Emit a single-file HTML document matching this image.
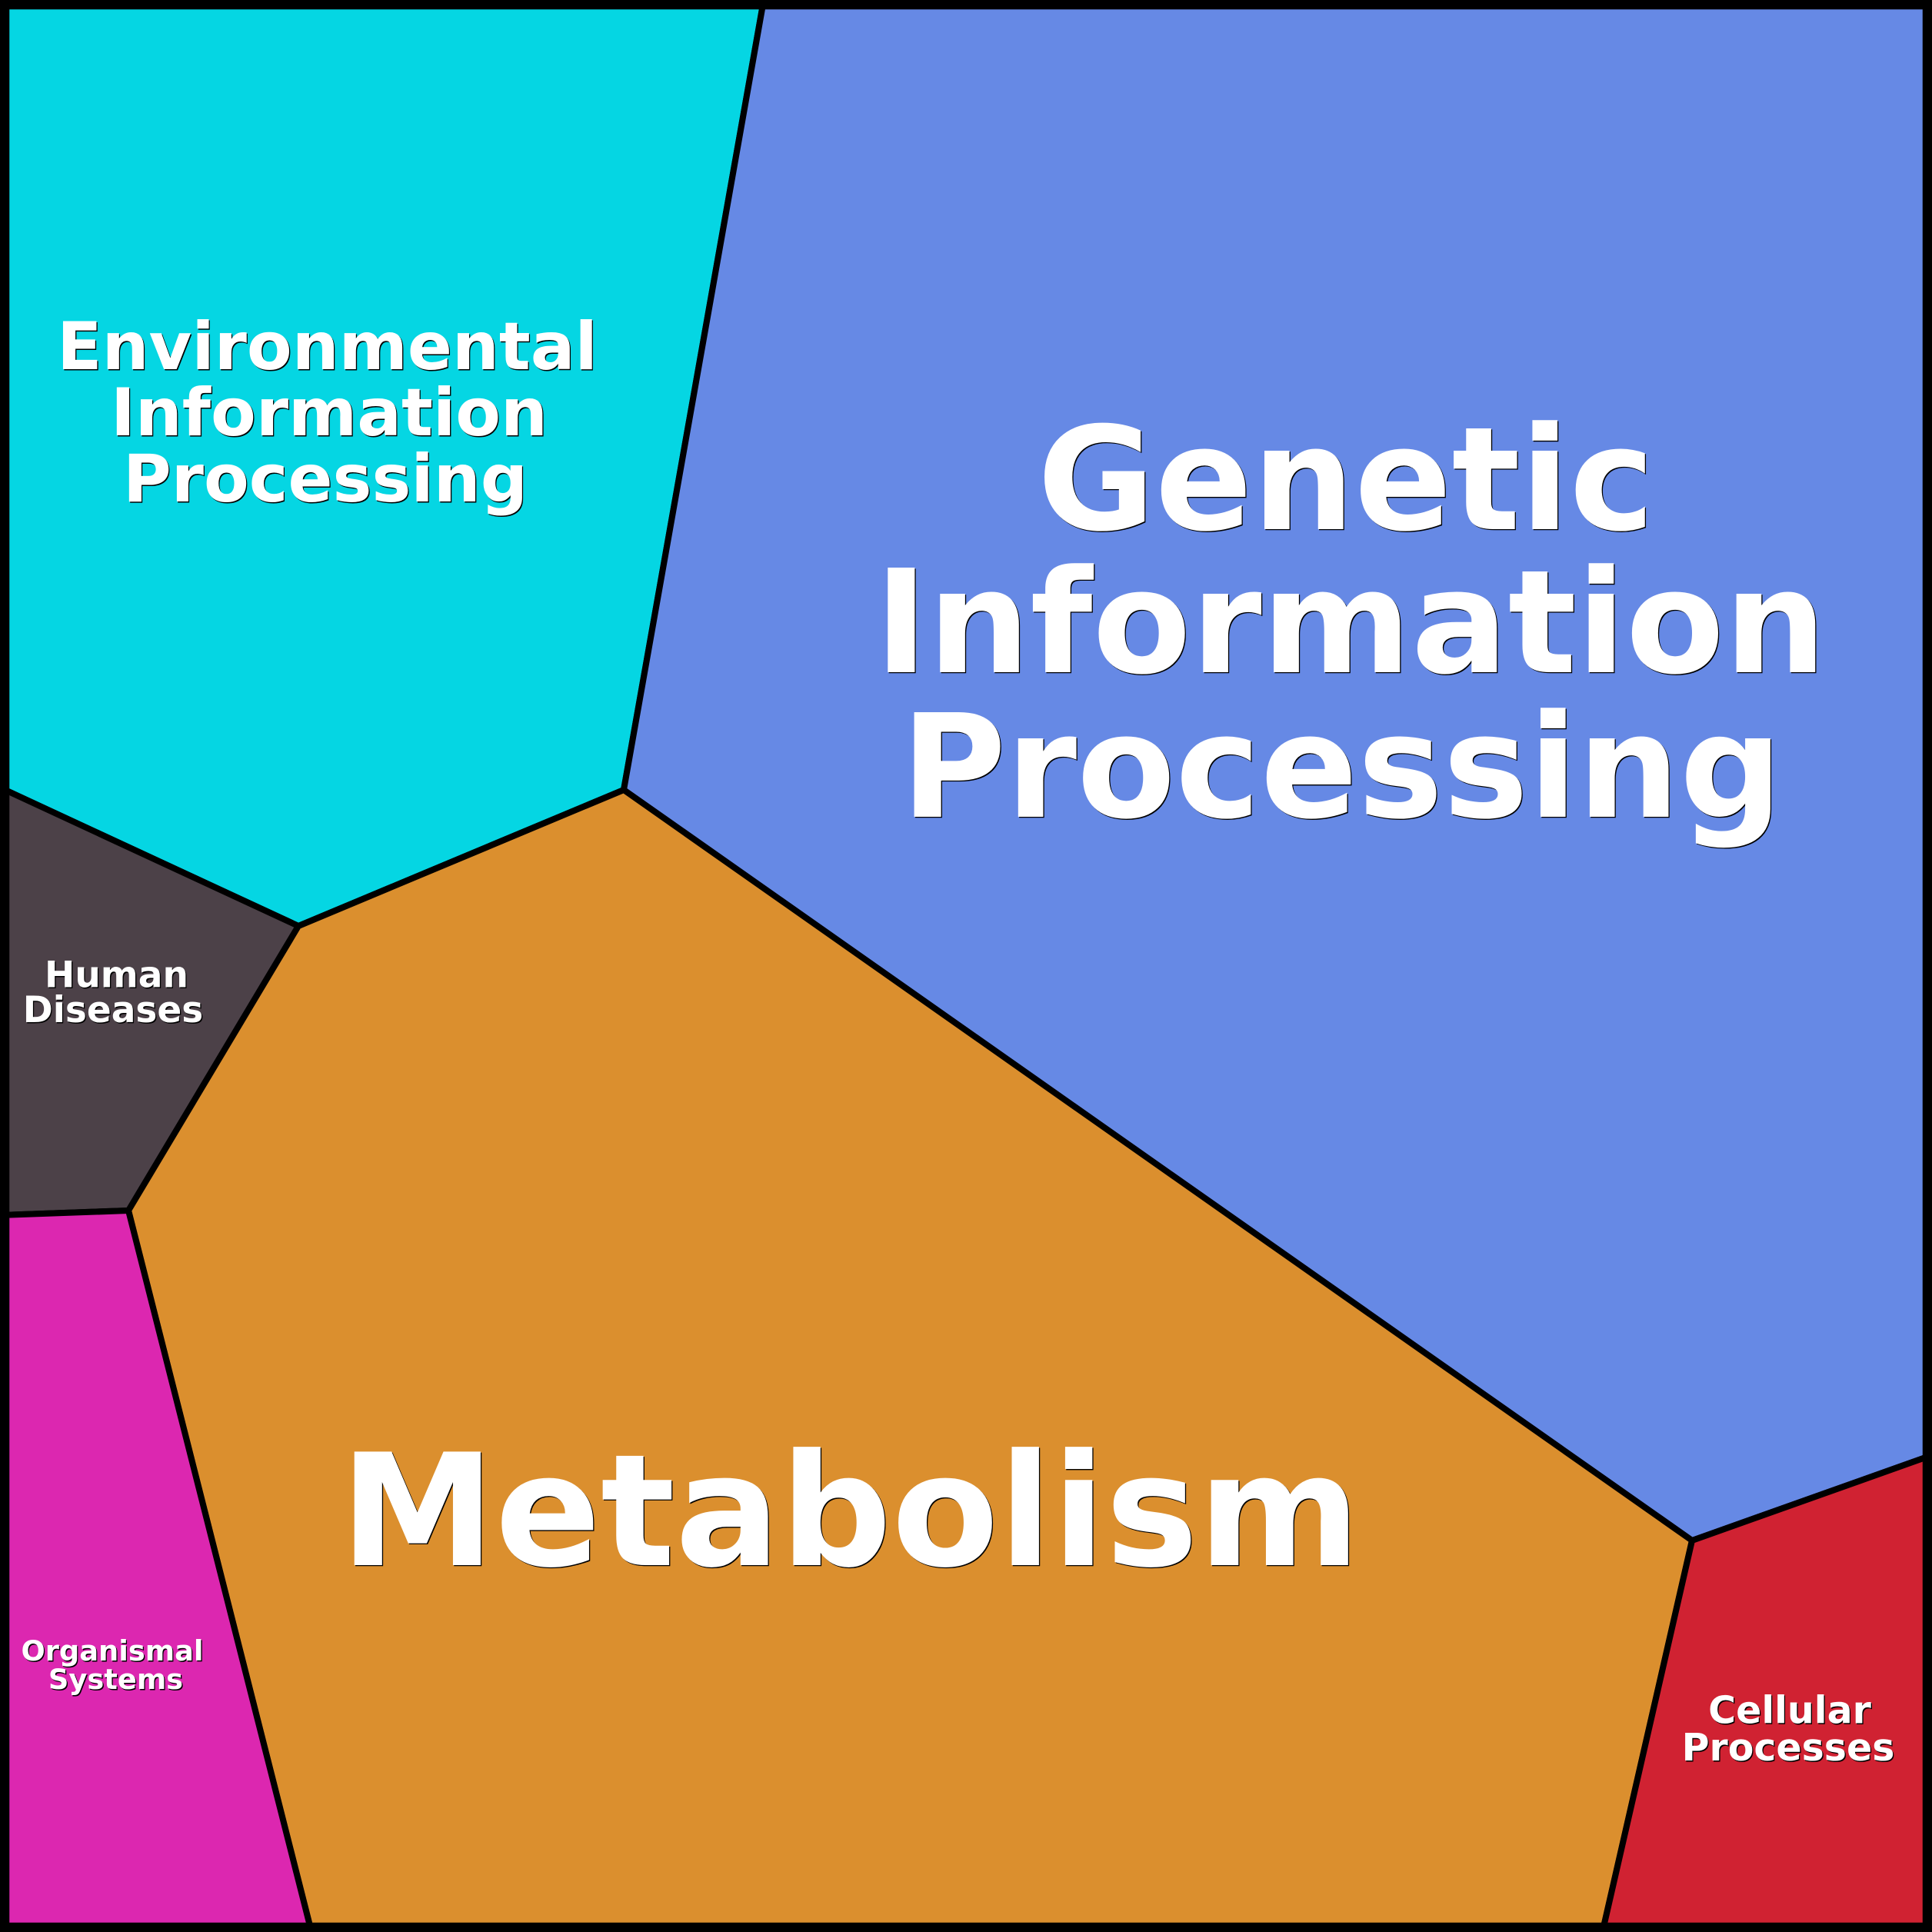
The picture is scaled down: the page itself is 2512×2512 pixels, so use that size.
<!DOCTYPE html>
<html><head><meta charset="utf-8"><style>
html,body{margin:0;padding:0;background:#000}
svg{display:block}
text{font-family:"DejaVu Sans","Liberation Sans",sans-serif;font-weight:700;fill:#fff;text-anchor:middle;text-shadow:1.3px 1.3px 0 #000}
</style></head><body>
<svg xmlns="http://www.w3.org/2000/svg" width="2512" height="2512" viewBox="0 0 2512 2512">
<rect width="2512" height="2512" fill="#000"/>
<g stroke="#000" stroke-width="8" stroke-linejoin="miter">
<polygon points="0,0 993,0 811,1027 388,1204 0,1024" fill="#05d6e3"/>
<polygon points="993,0 2512,0 2512,1892 2200,2003 811,1027" fill="#6689e5"/>
<polygon points="0,1024 388,1204 167,1574 0,1580" fill="#4c4148"/>
<polygon points="811,1027 2200,2003 2083.5,2512 405,2512 167,1574 388,1204" fill="#db8f2e"/>
<polygon points="0,1580 167,1574 405,2512 0,2512" fill="#dc27b0"/>
<polygon points="2200,2003 2512,1892 2512,2512 2083.5,2512" fill="#d02232"/>
</g>
<rect x="6" y="6" width="2500" height="2500" fill="none" stroke="#000" stroke-width="12.5"/>
<g font-size="85.6">
<text x="425.5" y="480">Environmental</text>
<text x="428" y="566">Information</text>
<text x="423" y="652">Processing</text>
</g>
<g font-size="186.5">
<text x="1750" y="688">Genetic</text>
<text x="1756" y="874">Information</text>
<text x="1744.5" y="1062">Processing</text>
</g>
<text x="1105.5" y="2035" font-size="202.5">Metabolism</text>
<g font-size="47">
<text x="151.5" y="1283.5">Human</text>
<text x="147" y="1329">Diseases</text>
</g>
<g font-size="36.8">
<text x="146" y="2159">Organismal</text>
<text x="150.5" y="2196">Systems</text>
</g>
<g font-size="49">
<text x="2327" y="2240.5">Cellular</text>
<text x="2325" y="2289">Processes</text>
</g>
</svg>
</body></html>
